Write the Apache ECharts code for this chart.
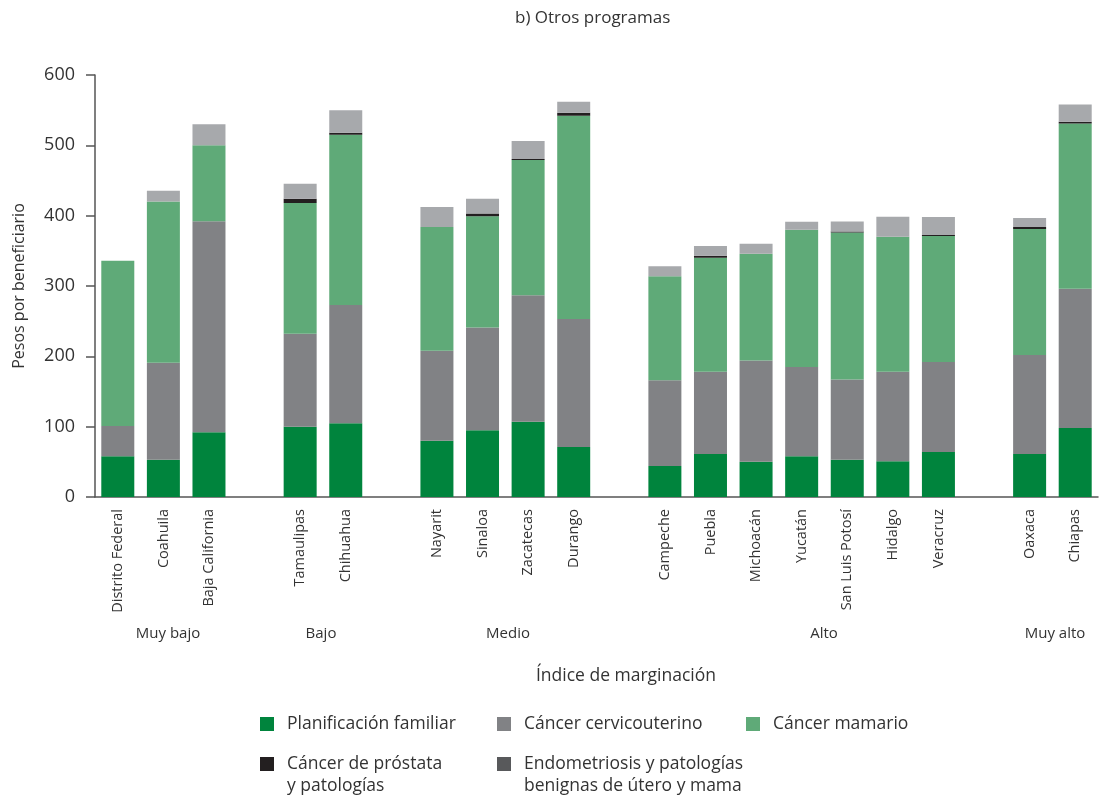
<!DOCTYPE html>
<html>
<head>
<meta charset="utf-8">
<script src="https://cdn.jsdelivr.net/npm/echarts@6/dist/echarts.min.js"></script>
<style>
  html, body { margin: 0; padding: 0; background: #fff; }
  #chart { width: 1100px; height: 797px; }
</style>
</head>
<body>
<div id="chart"></div>
<script>
// estados, con huecos entre grupos de marginación
const categories = ['Distrito Federal', 'Coahuila', 'Baja California', '',
  'Tamaulipas', 'Chihuahua', '',
  'Nayarit', 'Sinaloa', 'Zacatecas', 'Durango', '',
  'Campeche', 'Puebla', 'Michoacán', 'Yucatán', 'San Luis Potosí', 'Hidalgo', 'Veracruz', '',
  'Oaxaca', 'Chiapas'];
const groups = ['Muy bajo', 'Bajo', 'Medio', 'Alto', 'Muy alto'];
const yTicks = [0, 100, 200, 300, 400, 500, 600];

const planificacion = [58, 53, 92, '-', 100, 105, '-', 80, 95, 107, 71, '-', 44, 61, 50, 58, 53, 51, 64, '-', 61, 98];
const cervicouterino = [43, 138, 300, '-', 132, 168, '-', 128, 146, 180, 182, '-', 122, 117, 144, 127, 114, 127, 128, '-', 141, 198];
const mamario = [235, 229, 108, '-', 186, 242, '-', 176, 158, 192, 289, '-', 148, 162, 152, 195, 209, 192, 179, '-', 179, 235];
const prostata = [0, 0, 0, '-', 6, 3, '-', 0, 4, 1.6, 4.3, '-', 0, 3, 0, 0, 1.4, 0, 1.5, '-', 3, 2.6];
const endometriosis = [0, 15.5, 30, '-', 21.3, 32, '-', 28.4, 21, 25.4, 15.6, '-', 14, 14, 14, 11.3, 14.2, 28.3, 25.5, '-', 12.7, 24.4];

const font = '"Open Sans", "Noto Sans", sans-serif';
const txt = '#333';

const names = ['Planificación familiar', 'Cáncer cervicouterino', 'Cáncer mamario',
  'Cáncer de próstata', 'Endometriosis y patologías'];
const colors = ['#00843d', '#818285', '#5faa78', '#231f20', '#a7a9ac'];
const values = [planificacion, cervicouterino, mamario, prostata, endometriosis];

// posiciones de las leyendas
const legendPos = [[260, 715], [497, 715], [746, 715], [260, 755], [497, 755]];
const legendColor = ['#00843d', '#818285', '#5faa78', '#231f20', '#58595b'];

// centros de los rótulos de grupo
const groupX = [168, 321, 508, 824, 1055];

const chart = echarts.init(document.getElementById('chart'));

const option = {
  animation: false,
  textStyle: { fontFamily: font },
  title: {
    text: 'b) Otros programas',
    left: 510,
    top: 5,
    textStyle: { fontSize: 17, fontWeight: 'normal', color: txt, fontFamily: font }
  },
  grid: { left: 95, right: 2, top: 75, bottom: 300, containLabel: false },
  legend: legendPos.map((p, i) => ({
    left: p[0],
    top: p[1],
    padding: 0,
    selectedMode: false,
    icon: 'rect',
    itemWidth: 14,
    itemHeight: 14,
    data: [{ name: names[i], itemStyle: { color: legendColor[i] } }],
    textStyle: { fontSize: 17.5, color: txt, fontFamily: font, padding: [0, 0, 0, 8] }
  })),
  xAxis: {
    type: 'category',
    data: categories,
    axisLine: { lineStyle: { color: '#555', width: 1.5 } },
    axisTick: { length: 9, lineStyle: { color: '#555', width: 1.5 } },
    axisLabel: { rotate: 90, fontSize: 14.5, color: txt, margin: 12, interval: 0, fontFamily: font }
  },
  yAxis: {
    type: 'value',
    min: 0,
    max: yTicks[yTicks.length - 1],
    interval: 100,
    name: 'Pesos por beneficiario',
    nameLocation: 'middle',
    nameGap: 68,
    nameTextStyle: { fontSize: 16, color: txt, fontFamily: font },
    axisLine: { show: true, lineStyle: { color: '#555', width: 1.5 } },
    axisTick: { show: true, length: 9, lineStyle: { color: '#555', width: 1.5 } },
    axisLabel: { fontSize: 18, color: txt, margin: 20, fontFamily: font },
    splitLine: { show: false }
  },
  series: values.map((d, i) => ({
    name: names[i],
    type: 'bar',
    stack: 'total',
    barWidth: 33,
    silent: true,
    itemStyle: { color: colors[i] },
    data: d
  })),
  graphic: groups.map((g, i) => ({
    type: 'text', x: groupX[i], y: 634,
    style: { text: g, fontSize: 15, fill: txt, fontFamily: font, align: 'center', verticalAlign: 'middle' }
  })).concat([
    { type: 'text', x: 626, y: 676, style: { text: 'Índice de marginación', fontSize: 17.5, fill: txt, fontFamily: font, align: 'center', verticalAlign: 'middle' } },
    // segunda línea de las leyendas largas
    { type: 'text', x: 287, y: 786, style: { text: 'y patologías', fontSize: 17.5, fill: txt, fontFamily: font, verticalAlign: 'middle' } },
    { type: 'text', x: 524, y: 786, style: { text: 'benignas de útero y mama', fontSize: 17.5, fill: txt, fontFamily: font, verticalAlign: 'middle' } }
  ])
};

chart.setOption(option);
</script>
</body>
</html>
